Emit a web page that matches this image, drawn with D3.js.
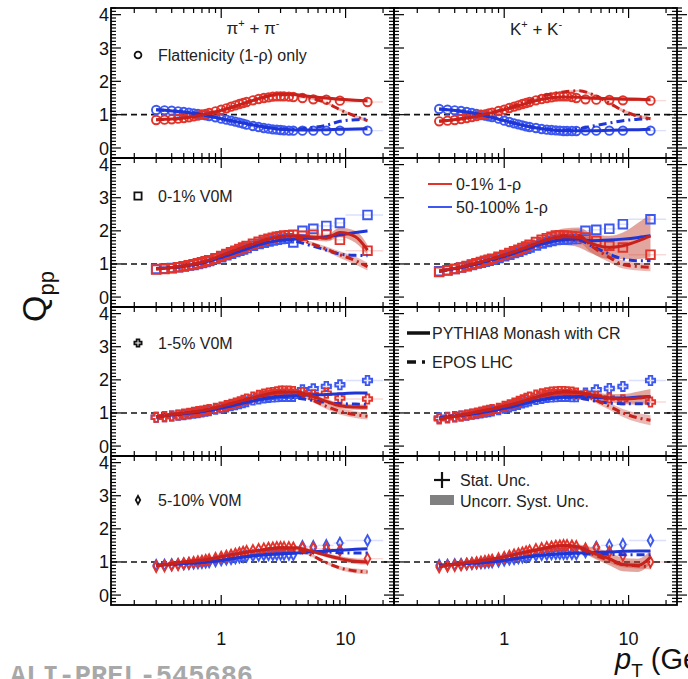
<!DOCTYPE html>
<html><head><meta charset="utf-8">
<script src="https://cdn.jsdelivr.net/npm/d3@7"></script>
<style>body{margin:0;background:#fff}svg{display:block;font-family:"Liberation Sans",Arial,sans-serif}</style>
</head><body><svg id="c" width="688" height="679"></svg>
<script>
// ---------- data ----------
const pT = [0.3,0.35,0.4,0.45,0.5,0.55,0.6,0.65,0.7,0.75,0.8, 0.9,1.0,1.1,1.2,1.3,1.4,1.5,1.6, 1.8,2.0,2.2,2.4,2.6,2.8,3.0,3.2,3.5,3.8, 4.5,5.5,7,9,15];
const hiBinLo = [4,5,6,8,10];
const hiBinHi = [5,6,8,10,20];
const mpT = [0.3,0.5,0.7,1,1.5,2,3,4,5,7,9,12,15];

// Flattenicity (1-rho) only
const piFlatRed  = [0.84,0.85,0.86,0.88,0.90,0.92,0.95,0.97,1.00,1.02,1.05, 1.10,1.15,1.19,1.24,1.28,1.32,1.35,1.38, 1.43,1.47,1.50,1.52,1.54,1.55,1.55,1.55,1.54,1.53, 1.50,1.46,1.45,1.42,1.38];
const piFlatBlue = [1.14,1.13,1.12,1.10,1.08,1.06,1.04,1.02,1.00,0.98,0.96, 0.92,0.88,0.85,0.82,0.79,0.76,0.73,0.70, 0.66,0.63,0.60,0.58,0.56,0.55,0.54,0.53,0.52,0.52, 0.52,0.52,0.52,0.52,0.52];
const KFlatRed   = [0.80,0.82,0.84,0.87,0.90,0.93,0.96,0.99,1.01,1.04,1.06, 1.11,1.15,1.20,1.24,1.28,1.32,1.35,1.38, 1.43,1.47,1.50,1.52,1.54,1.55,1.55,1.55,1.53,1.50, 1.46,1.45,1.44,1.43,1.42];
const KFlatBlue  = [1.17,1.15,1.13,1.11,1.08,1.05,1.02,1.00,0.97,0.95,0.93, 0.88,0.82,0.78,0.74,0.71,0.68,0.65,0.63, 0.60,0.57,0.55,0.54,0.53,0.52,0.51,0.51,0.51,0.51, 0.52,0.52,0.52,0.52,0.52];
// 0-1% V0M
const pi01Red  = [0.83,0.85,0.87,0.90,0.93,0.96,0.99,1.02,1.05,1.08,1.11, 1.17,1.24,1.30,1.35,1.40,1.45,1.50,1.54, 1.61,1.67,1.72,1.76,1.79,1.82,1.84,1.86,1.87,1.88, 1.85,1.88,1.90,1.73,1.40];
const pi01Blue = [0.85,0.86,0.88,0.90,0.92,0.95,0.97,1.00,1.03,1.06,1.09, 1.15,1.20,1.26,1.31,1.36,1.40,1.44,1.48, 1.55,1.60,1.64,1.68,1.71,1.73,1.75,1.76,1.78,1.65, 2.00,2.06,2.15,2.24,2.48];
const K01Red   = [0.76,0.80,0.85,0.89,0.94,0.98,1.02,1.06,1.10,1.13,1.16, 1.22,1.27,1.33,1.38,1.43,1.48,1.53,1.58, 1.66,1.73,1.78,1.82,1.86,1.87,1.86,1.85,1.84,1.83, 1.80,1.70,1.55,1.50,1.28];
const K01Blue  = [0.78,0.81,0.85,0.89,0.93,0.97,1.01,1.04,1.07,1.10,1.13, 1.18,1.23,1.28,1.33,1.37,1.42,1.46,1.50, 1.56,1.62,1.66,1.69,1.72,1.73,1.74,1.74,1.75,1.75, 2.00,2.03,2.06,2.20,2.35];
// 1-5% V0M
const pi15Red  = [0.87,0.89,0.91,0.94,0.97,0.99,1.02,1.04,1.06,1.08,1.10, 1.14,1.18,1.22,1.26,1.30,1.34,1.38,1.42, 1.48,1.53,1.57,1.60,1.62,1.64,1.66,1.66,1.66,1.65, 1.62,1.55,1.60,1.45,1.42];
const pi15Blue = [0.87,0.89,0.91,0.93,0.95,0.97,0.99,1.01,1.03,1.05,1.07, 1.11,1.15,1.18,1.22,1.25,1.28,1.31,1.34, 1.39,1.42,1.45,1.47,1.48,1.49,1.50,1.50,1.50,1.50, 1.70,1.73,1.80,1.85,1.98];
const K15Red   = [0.82,0.85,0.88,0.91,0.94,0.97,1.00,1.03,1.06,1.08,1.10, 1.14,1.20,1.25,1.30,1.35,1.40,1.44,1.48, 1.54,1.58,1.61,1.63,1.64,1.65,1.65,1.64,1.63,1.60, 1.55,1.50,1.45,1.40,1.33];
const K15Blue  = [0.85,0.87,0.89,0.91,0.93,0.96,0.98,1.00,1.02,1.04,1.06, 1.10,1.14,1.18,1.22,1.26,1.30,1.33,1.36, 1.41,1.44,1.47,1.48,1.49,1.50,1.50,1.50,1.49,1.49, 1.60,1.70,1.74,1.80,1.98];
// 5-10% V0M
const pi510Red  = [0.86,0.88,0.90,0.92,0.95,0.97,0.99,1.01,1.03,1.05,1.07, 1.11,1.15,1.18,1.21,1.24,1.27,1.30,1.32, 1.35,1.38,1.40,1.42,1.43,1.44,1.44,1.44,1.44,1.43, 1.43,1.42,1.40,1.35,1.10];
const pi510Blue = [0.90,0.91,0.92,0.93,0.94,0.95,0.96,0.97,0.98,0.99,1.00, 1.03,1.06,1.08,1.10,1.12,1.14,1.16,1.17, 1.19,1.20,1.21,1.22,1.22,1.23,1.23,1.23,1.23,1.22, 1.47,1.47,1.50,1.57,1.65];
const K510Red   = [0.85,0.87,0.89,0.91,0.94,0.96,0.98,1.00,1.02,1.04,1.06, 1.10,1.14,1.18,1.22,1.25,1.28,1.31,1.34, 1.38,1.41,1.44,1.46,1.48,1.49,1.50,1.50,1.49,1.47, 1.40,1.42,1.30,1.20,1.00];
const K510Blue  = [0.90,0.91,0.92,0.93,0.94,0.95,0.96,0.97,0.98,0.99,1.00, 1.02,1.05,1.08,1.10,1.12,1.14,1.16,1.18, 1.20,1.22,1.23,1.24,1.25,1.25,1.25,1.25,1.25,1.24, 1.30,1.45,1.50,1.53,1.65];

// Models (PYTHIA8 Monash with CR = py, EPOS LHC = ep), R = 0-1% 1-rho, B = 50-100% 1-rho
const piFlatPyR = [0.85,0.90,0.99,1.13,1.33,1.48,1.62,1.60,1.55,1.50,1.46,1.43,1.42];
const piFlatEpR = [0.85,0.90,0.99,1.13,1.33,1.48,1.60,1.58,1.52,1.35,1.15,0.95,0.82];
const piFlatPyB = [1.15,1.08,1.00,0.88,0.75,0.66,0.56,0.54,0.54,0.55,0.56,0.57,0.58];
const piFlatEpB = [1.15,1.08,1.00,0.88,0.75,0.66,0.57,0.57,0.60,0.68,0.80,0.85,0.87];
const KFlatPyR  = [0.80,0.90,1.01,1.15,1.33,1.46,1.53,1.52,1.50,1.48,1.47,1.46,1.45];
const KFlatEpR  = [0.80,0.90,1.01,1.17,1.38,1.55,1.68,1.72,1.62,1.35,1.12,0.95,0.88];
const KFlatPyB  = [1.17,1.08,0.97,0.82,0.66,0.58,0.52,0.52,0.52,0.53,0.54,0.55,0.56];
const KFlatEpB  = [1.17,1.08,0.97,0.82,0.66,0.58,0.54,0.58,0.65,0.75,0.82,0.86,0.88];

const pi01PyR = [0.85,0.94,1.05,1.25,1.50,1.66,1.82,1.85,1.82,1.78,1.95,1.82,1.42];
const pi01EpR = [0.85,0.94,1.05,1.25,1.50,1.66,1.82,1.80,1.65,1.45,1.28,1.10,0.92];
const pi01PyB = [0.86,0.93,1.03,1.20,1.42,1.58,1.72,1.75,1.78,1.82,1.88,1.95,2.00];
const pi01EpB = [0.86,0.93,1.03,1.20,1.42,1.58,1.72,1.68,1.58,1.42,1.30,1.26,1.25];
const K01PyR  = [0.78,0.95,1.10,1.27,1.50,1.68,1.82,1.80,1.62,1.50,1.55,1.70,1.85];
const K01EpR  = [0.78,0.95,1.10,1.27,1.50,1.68,1.85,1.85,1.55,1.20,0.98,0.92,0.90];
const K01PyB  = [0.78,0.93,1.07,1.23,1.45,1.60,1.73,1.75,1.70,1.72,1.75,1.80,1.85];
const K01EpB  = [0.78,0.93,1.07,1.23,1.45,1.60,1.73,1.72,1.55,1.30,1.15,1.10,1.10];

const pi15PyR = [0.88,1.00,1.07,1.20,1.38,1.50,1.63,1.63,1.55,1.35,1.22,1.18,1.17];
const pi15EpR = [0.88,1.00,1.07,1.20,1.38,1.50,1.63,1.60,1.45,1.20,1.05,0.95,0.90];
const pi15PyB = [0.88,0.98,1.04,1.15,1.30,1.40,1.50,1.52,1.54,1.56,1.58,1.60,1.60];
const pi15EpB = [0.88,0.98,1.04,1.15,1.30,1.40,1.50,1.45,1.40,1.32,1.28,1.27,1.26];
const K15PyR  = [0.82,0.97,1.08,1.20,1.38,1.52,1.63,1.62,1.55,1.45,1.42,1.45,1.50];
const K15EpR  = [0.82,0.97,1.08,1.20,1.38,1.52,1.65,1.62,1.45,1.20,1.00,0.85,0.78];
const K15PyB  = [0.85,0.95,1.03,1.14,1.30,1.40,1.48,1.50,1.48,1.45,1.45,1.48,1.50];
const K15EpB  = [0.85,0.95,1.03,1.14,1.30,1.40,1.48,1.45,1.38,1.30,1.28,1.28,1.28];

const pi510PyR = [0.88,1.00,1.05,1.15,1.28,1.35,1.43,1.43,1.35,1.20,1.10,1.02,1.00];
const pi510EpR = [0.88,1.00,1.05,1.15,1.28,1.35,1.43,1.38,1.25,0.98,0.82,0.73,0.70];
const pi510PyB = [0.90,0.95,0.98,1.05,1.15,1.20,1.25,1.27,1.30,1.33,1.36,1.38,1.40];
const pi510EpB = [0.90,0.95,0.98,1.05,1.15,1.20,1.25,1.27,1.28,1.30,1.28,1.27,1.27];
const K510PyR  = [0.86,0.98,1.05,1.15,1.30,1.40,1.50,1.45,1.30,1.10,0.92,0.90,1.15];
const K510EpR  = [0.86,0.98,1.05,1.15,1.30,1.40,1.50,1.42,1.25,1.05,0.92,0.88,0.85];
const K510PyB  = [0.90,0.95,0.98,1.05,1.15,1.20,1.25,1.27,1.28,1.30,1.32,1.33,1.33];
const K510EpB  = [0.90,0.95,0.98,1.05,1.15,1.20,1.25,1.25,1.24,1.23,1.22,1.22,1.22];

// model uncertainty half-widths (red)
const piFlatBandPy = [0.01,0.01,0.01,0.01,0.01,0.02,0.02,0.02,0.03,0.03,0.04,0.04,0.05];
const piFlatBandEp = [0.01,0.01,0.01,0.01,0.01,0.02,0.02,0.02,0.03,0.03,0.04,0.04,0.05];
const KFlatBandPy  = [0.01,0.01,0.01,0.01,0.02,0.02,0.03,0.03,0.04,0.04,0.05,0.05,0.05];
const KFlatBandEp  = [0.01,0.01,0.01,0.01,0.02,0.02,0.03,0.03,0.04,0.04,0.05,0.05,0.05];
const pi01BandPy = [0.02,0.02,0.02,0.03,0.03,0.04,0.05,0.06,0.08,0.10,0.14,0.18,0.15];
const pi01BandEp = [0.02,0.02,0.02,0.03,0.03,0.04,0.05,0.06,0.06,0.08,0.10,0.12,0.12];
const K01BandPy  = [0.03,0.03,0.04,0.05,0.06,0.10,0.25,0.30,0.30,0.35,0.40,0.55,0.65];
const K01BandEp  = [0.03,0.03,0.04,0.05,0.06,0.10,0.15,0.20,0.20,0.15,0.12,0.12,0.12];
const pi15BandPy = [0.02,0.02,0.02,0.02,0.03,0.03,0.04,0.05,0.06,0.07,0.08,0.08,0.08];
const pi15BandEp = [0.02,0.02,0.02,0.02,0.03,0.03,0.04,0.05,0.06,0.08,0.10,0.10,0.10];
const K15BandPy  = [0.02,0.02,0.02,0.03,0.03,0.04,0.05,0.06,0.08,0.12,0.15,0.20,0.22];
const K15BandEp  = [0.02,0.02,0.02,0.03,0.03,0.04,0.05,0.06,0.08,0.10,0.12,0.14,0.15];
const pi510BandPy = [0.02,0.02,0.02,0.02,0.03,0.03,0.03,0.04,0.05,0.06,0.07,0.08,0.08];
const pi510BandEp = [0.02,0.02,0.02,0.02,0.03,0.03,0.03,0.04,0.05,0.05,0.06,0.07,0.07];
const K510BandPy  = [0.02,0.02,0.02,0.03,0.03,0.04,0.05,0.08,0.15,0.20,0.20,0.20,0.20];
const K510BandEp  = [0.02,0.02,0.02,0.03,0.03,0.04,0.05,0.06,0.08,0.08,0.08,0.08,0.08];

const yTickLabels = ["0","1","2","3","4"];
const xTickLabels = ["1","10"];
const rowLabels = ["Flattenicity (1-\u03c1) only","0-1% V0M","1-5% V0M","5-10% V0M"];
const rowShapes = ["circle","square","cross","diamond"];

// ---------- layout ----------
const svg = d3.select('#c');
const colX = [[111,394],[394,677]];
const rowY = [[8,158],[158,307],[307,456],[456,605]];
const RED='#e2342b', BLUE='#3d58f0', REDL='#c8211b', BLUEL='#1f36d6';

const panels = [
 {r:0,c:0,red:piFlatRed,blue:piFlatBlue,pyR:piFlatPyR,epR:piFlatEpR,pyB:piFlatPyB,epB:piFlatEpB,bPy:piFlatBandPy,bEp:piFlatBandEp},
 {r:0,c:1,red:KFlatRed,blue:KFlatBlue,pyR:KFlatPyR,epR:KFlatEpR,pyB:KFlatPyB,epB:KFlatEpB,bPy:KFlatBandPy,bEp:KFlatBandEp},
 {r:1,c:0,red:pi01Red,blue:pi01Blue,pyR:pi01PyR,epR:pi01EpR,pyB:pi01PyB,epB:pi01EpB,bPy:pi01BandPy,bEp:pi01BandEp},
 {r:1,c:1,red:K01Red,blue:K01Blue,pyR:K01PyR,epR:K01EpR,pyB:K01PyB,epB:K01EpB,bPy:K01BandPy,bEp:K01BandEp},
 {r:2,c:0,red:pi15Red,blue:pi15Blue,pyR:pi15PyR,epR:pi15EpR,pyB:pi15PyB,epB:pi15EpB,bPy:pi15BandPy,bEp:pi15BandEp},
 {r:2,c:1,red:K15Red,blue:K15Blue,pyR:K15PyR,epR:K15EpR,pyB:K15PyB,epB:K15EpB,bPy:K15BandPy,bEp:K15BandEp},
 {r:3,c:0,red:pi510Red,blue:pi510Blue,pyR:pi510PyR,epR:pi510EpR,pyB:pi510PyB,epB:pi510EpB,bPy:pi510BandPy,bEp:pi510BandEp},
 {r:3,c:1,red:K510Red,blue:K510Blue,pyR:K510PyR,epR:K510EpR,pyB:K510PyB,epB:K510EpB,bPy:K510BandPy,bEp:K510BandEp}
];

function shapePath(shape, s){
  if(shape==='circle') return `M${-s},0a${s},${s} 0 1,0 ${2*s},0a${s},${s} 0 1,0 ${-2*s},0Z`;
  if(shape==='square') return `M${-s},${-s}h${2*s}v${2*s}h${-2*s}Z`;
  if(shape==='cross'){ const a=s, w=s*0.38;
    return `M${-w},${-a}H${w}V${-w}H${a}V${w}H${w}V${a}H${-w}V${w}H${-a}V${-w}H${-w}Z`; }
  const a=s*1.15, b=s*0.62; return `M0,${-a}L${b},0L0,${a}L${-b},0Z`;
}
const markerSize = {circle:4.2, square:4.3, cross:4.6, diamond:4.6};

const defs = svg.append('defs');
panels.forEach((p,i)=>{
  const [x0,x1]=colX[p.c], [y0,y1]=rowY[p.r];
  defs.append('clipPath').attr('id','cp'+i).append('rect').attr('x',x0).attr('y',y0).attr('width',x1-x0).attr('height',y1-y0);
  const xs = d3.scaleLog().domain([0.13,24.5]).range([x0,x1]);
  const ys = d3.scaleLinear().domain([-0.3,4.2]).range([y1,y0]);
  const g = svg.append('g').attr('clip-path',`url(#cp${i})`);
  const shape = rowShapes[p.r], ms = markerSize[shape];

  // dashed unity line
  g.append('line').attr('x1',x0).attr('x2',x1).attr('y1',ys(1)).attr('y2',ys(1))
    .attr('stroke','#111').attr('stroke-width',1.6).attr('stroke-dasharray','6,4');

  // model bands (red)
  const area = (vals,bw)=>d3.area().curve(d3.curveMonotoneX)
    .x((d,k)=>xs(mpT[k])).y0((d,k)=>ys(vals[k]-bw[k])).y1((d,k)=>ys(vals[k]+bw[k]))(mpT);
  g.append('path').attr('d',area(p.pyR,p.bPy)).attr('fill','#c0392b').attr('opacity',0.45);
  g.append('path').attr('d',area(p.epR,p.bEp)).attr('fill','#c0392b').attr('opacity',0.35);

  // x error bars for high-pT bins
  [[p.blue,BLUE],[p.red,RED]].forEach(([vals,col])=>{
    const n=pT.length;
    hiBinLo.forEach((lo,k)=>{
      const v=vals[n-5+k];
      g.append('line').attr('x1',xs(lo)).attr('x2',xs(hiBinHi[k])).attr('y1',ys(v)).attr('y2',ys(v))
        .attr('stroke',col).attr('stroke-width',1.4).attr('opacity',0.18);
    });
  });

  // data markers
  [[p.blue,BLUE],[p.red,RED]].forEach(([vals,col])=>{
    g.selectAll(null).data(vals).enter().append('path')
      .attr('d',shapePath(shape,ms))
      .attr('transform',(d,k)=>`translate(${xs(pT[k])},${ys(d)})`)
      .attr('fill','none').attr('stroke',col).attr('stroke-width',1.9);
  });

  // model curves
  const line = vals=>d3.line().curve(d3.curveMonotoneX).x((d,k)=>xs(mpT[k])).y((d,k)=>ys(vals[k]))(mpT);
  g.append('path').attr('d',line(p.pyB)).attr('fill','none').attr('stroke',BLUEL).attr('stroke-width',3);
  g.append('path').attr('d',line(p.epB)).attr('fill','none').attr('stroke',BLUEL).attr('stroke-width',3).attr('stroke-dasharray','8,4,2,4');
  g.append('path').attr('d',line(p.pyR)).attr('fill','none').attr('stroke',REDL).attr('stroke-width',3);
  g.append('path').attr('d',line(p.epR)).attr('fill','none').attr('stroke',REDL).attr('stroke-width',3).attr('stroke-dasharray','8,4,2,4');

  // ticks
  const tg = svg.append('g').attr('stroke','#000').attr('stroke-width',1.2);
  const xMaj=[1,10], xMin=[0.2,0.3,0.4,0.5,0.6,0.7,0.8,0.9,2,3,4,5,6,7,8,9,20];
  xMaj.concat(xMin).forEach(v=>{
    const L = xMaj.includes(v)?10:5, x=xs(v);
    tg.append('line').attr('x1',x).attr('x2',x).attr('y1',y1).attr('y2',y1-L);
    tg.append('line').attr('x1',x).attr('x2',x).attr('y1',y0).attr('y2',y0+L);
  });
  for(let t=-2;t<=42;t++){
    const L = (t%10===0)?10:5, y=ys(t/10);
    tg.append('line').attr('x1',x0).attr('x2',x0+L).attr('y1',y).attr('y2',y);
    tg.append('line').attr('x1',x1).attr('x2',x1-L).attr('y1',y).attr('y2',y);
    if(p.c===1) tg.append('line').attr('x1',x1).attr('x2',x1+L).attr('y1',y).attr('y2',y);
  }
  // y tick labels
  if(p.c===0){
    yTickLabels.forEach((lab,k)=>{
      svg.append('text').attr('x',x0-2).attr('y',ys(k)+6.5).attr('text-anchor','end')
        .attr('font-size',18).attr('fill','#111').text(lab);
    });
  }
  // x tick labels
  if(p.r===3){
    xTickLabels.forEach((lab,k)=>{
      svg.append('text').attr('x',xs(xMaj[k])).attr('y',645).attr('text-anchor','middle')
        .attr('font-size',18).attr('fill','#111').text(lab);
    });
  }
  // frame
  svg.append('rect').attr('x',x0).attr('y',y0).attr('width',x1-x0).attr('height',y1-y0)
    .attr('fill','none').attr('stroke','#000').attr('stroke-width',1.8);

  // row legend (left panels)
  if(p.c===0){
    const ly = [55,196,343,500][p.r];
    svg.append('path').attr('d',shapePath(shape, shape==='circle'?3.4:3.6))
      .attr('transform',`translate(138,${ly})`).attr('fill','none').attr('stroke','#111').attr('stroke-width',1.8);
    svg.append('text').attr('x',158).attr('y',ly+6).attr('font-size',16).attr('fill','#222').text(rowLabels[p.r]);
  }
});

// species titles
function title(x,y,base){
  const t=svg.append('text').attr('x',x).attr('y',y).attr('text-anchor','middle').attr('font-size',17).attr('fill','#222');
  t.append('tspan').text(base);
  t.append('tspan').attr('dy',-7).attr('font-size',11).text('+');
  t.append('tspan').attr('dy',7).text(' + '+base);
  t.append('tspan').attr('dy',-7).attr('font-size',11).text('-');
}
title(253,34,'\u03c0');
title(536,35,'K');

// legends right column
const lg = svg.append('g').attr('font-size',16).attr('fill','#222');
lg.append('line').attr('x1',428).attr('x2',452).attr('y1',184).attr('y2',184).attr('stroke',RED).attr('stroke-width',2);
lg.append('text').attr('x',456).attr('y',190).text('0-1% 1-\u03c1');
lg.append('line').attr('x1',428).attr('x2',452).attr('y1',207).attr('y2',207).attr('stroke',BLUE).attr('stroke-width',2);
lg.append('text').attr('x',456).attr('y',213).text('50-100% 1-\u03c1');
lg.append('line').attr('x1',407).attr('x2',430).attr('y1',333).attr('y2',333).attr('stroke','#111').attr('stroke-width',3.5);
lg.append('text').attr('x',432).attr('y',339).text('PYTHIA8 Monash with CR');
lg.append('line').attr('x1',407).attr('x2',430).attr('y1',362).attr('y2',362).attr('stroke','#111').attr('stroke-width',3.5).attr('stroke-dasharray','9,6,3,6');
lg.append('text').attr('x',432).attr('y',368).text('EPOS LHC');
lg.append('line').attr('x1',434).attr('x2',450).attr('y1',480).attr('y2',480).attr('stroke','#111').attr('stroke-width',2.2);
lg.append('line').attr('x1',442).attr('x2',442).attr('y1',472).attr('y2',488).attr('stroke','#111').attr('stroke-width',2.2);
lg.append('text').attr('x',460).attr('y',486).text('Stat. Unc.');
lg.append('rect').attr('x',430).attr('y',495).attr('width',24).attr('height',10).attr('fill','#808080');
lg.append('text').attr('x',460).attr('y',507).text('Uncorr. Syst. Unc.');

// axis titles
const yl = svg.append('text').attr('transform','translate(46,322) rotate(-90)').attr('font-size',34).attr('fill','#111');
yl.append('tspan').text('Q');
yl.append('tspan').attr('dy',8).attr('font-size',22).text('pp');
const xl = svg.append('text').attr('x',615).attr('y',669).attr('font-size',29).attr('fill','#111');
xl.append('tspan').attr('font-style','italic').text('p');
xl.append('tspan').attr('dy',8).attr('font-size',19).text('T');
xl.append('tspan').attr('dy',-8).text(' (GeV/c)');

svg.append('text').attr('x',10).attr('y',684).attr('font-family','"Liberation Mono",monospace').attr('font-weight','bold')
  .attr('font-size',27).attr('fill','#a8a8a8').text('ALI-PREL-545686');
</script></body></html>
